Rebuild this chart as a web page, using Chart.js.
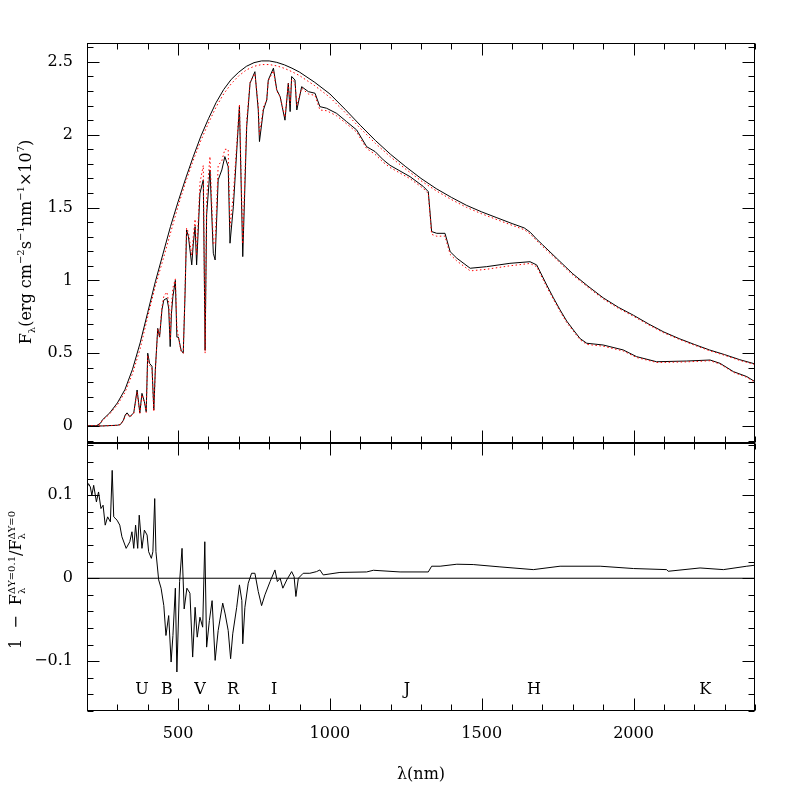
<!DOCTYPE html>
<html>
<head>
<meta charset="utf-8">
<script src="https://cdn.jsdelivr.net/npm/chart.js@4.4.1/dist/chart.umd.min.js"></script>
<style>
  html, body { margin: 0; padding: 0; background: #fff; }
  #wrap { position: relative; width: 797px; height: 797px; font-family: 'DejaVu Serif', serif; color: #000; }
  .box { position: absolute; left: 0; width: 797px; }
  .title { position: absolute; white-space: nowrap; font-size: 16px; transform: translate(-50%, -50%); }
  .rot { transform: translate(-50%, -50%) rotate(-90deg); }
  .title sup, .title sub { font-size: 10px; }
  .ss { display: inline-flex; flex-direction: column; font-size: 10px; line-height: 10px; vertical-align: middle; }
</style>
</head>
<body>
<div id="wrap">
  <div class="box" style="top:0;height:444px"><canvas id="topChart"></canvas></div>
  <div class="box" style="top:443px;height:354px"><canvas id="botChart"></canvas></div>
  <div class="title rot" style="left:26px;top:242px">F<sub>λ</sub>(erg cm<sup>−2</sup>s<sup>−1</sup>nm<sup>−1</sup>×10<sup>7</sup>)</div>
  <div class="title rot" style="left:16px;top:580px">1&nbsp;&nbsp;−&nbsp;&nbsp;F<span class="ss"><span>ΔY=0.1</span><span>λ</span></span>/F<span class="ss"><span>ΔY=0</span><span>λ</span></span></div>
  <div class="title" style="left:421px;top:773px">λ(nm)</div>
</div>
<script>
/* ---- data ---- */
const specWl = [200, 250, 300, 310, 320, 326, 332, 341, 354, 365, 374, 381, 389, 395, 400, 406, 414, 420, 425, 433,
  439, 447, 453, 463, 469, 474, 478, 483, 491, 496, 501, 510, 517, 523, 528, 534, 545, 550, 556, 561,
  572, 583, 589, 594, 605, 616, 622, 632, 644, 654, 665, 671, 682, 702, 713, 726, 737, 753, 764, 768,
  781, 792, 797, 814, 825, 836, 852, 863, 869, 874, 885, 891, 907, 929, 951, 967, 989, 1022, 1055, 1088,
  1121, 1149, 1176, 1198, 1264, 1308, 1324, 1335, 1352, 1379, 1396, 1418, 1462, 1516, 1593, 1659, 1681, 1714, 1736, 1758,
  1780, 1802, 1824, 1846, 1900, 1966, 2010, 2076, 2175, 2252, 2285, 2329, 2373, 2400];
// F_lambda, Delta Y = 0 (black)
const specY0 = [0, 0, 0.005, 0.01, 0.04, 0.076, 0.09, 0.064, 0.09, 0.247, 0.09, 0.224, 0.167, 0.098, 0.50, 0.43, 0.41, 0.11, 0.385, 0.67,
  0.61, 0.80, 0.865, 0.877, 0.81, 0.545, 0.77, 0.89, 1.0, 0.61, 0.61, 0.52, 0.50, 0.91, 1.346, 1.30, 1.106, 1.25, 1.369, 1.106,
  1.598, 1.69, 0.52, 1.45, 1.758, 1.186, 1.14, 1.69, 1.758, 1.85, 1.78, 1.255, 1.506, 2.193, 1.163, 2.056, 2.354, 2.433, 2.17, 1.953,
  2.17, 2.239, 2.376, 2.457, 2.308, 2.262, 2.10, 2.354, 2.159, 2.40, 2.376, 2.17, 2.33, 2.296, 2.285, 2.193, 2.182, 2.147, 2.09, 2.033,
  1.918, 1.884, 1.827, 1.79, 1.712, 1.644, 1.609, 1.335, 1.323, 1.323, 1.197, 1.152, 1.083, 1.094, 1.117, 1.128, 1.106, 0.968, 0.88, 0.797,
  0.72, 0.659, 0.60, 0.568, 0.556, 0.522, 0.476, 0.441, 0.446, 0.453, 0.43, 0.373, 0.339, 0.304];
// F_lambda, Delta Y = 0.1 (red dotted)
const specY1 = [0, 0, 0.0045, 0.009, 0.036, 0.069, 0.082, 0.06, 0.085, 0.235, 0.085, 0.214, 0.158, 0.093, 0.485, 0.415, 0.40, 0.10, 0.375, 0.665,
  0.615, 0.82, 0.89, 0.92, 0.85, 0.59, 0.82, 0.95, 1.01, 0.68, 0.61, 0.51, 0.50, 0.94, 1.36, 1.33, 1.17, 1.30, 1.42, 1.17,
  1.67, 1.79, 0.50, 1.57, 1.85, 1.25, 1.25, 1.79, 1.82, 1.90, 1.90, 1.37, 1.59, 2.21, 1.25, 2.10, 2.36, 2.42, 2.20, 2.0,
  2.19, 2.24, 2.37, 2.44, 2.30, 2.26, 2.12, 2.35, 2.21, 2.38, 2.36, 2.20, 2.32, 2.28, 2.27, 2.17, 2.165, 2.13, 2.075, 2.018,
  1.905, 1.865, 1.81, 1.775, 1.698, 1.631, 1.596, 1.316, 1.303, 1.304, 1.178, 1.133, 1.065, 1.076, 1.10, 1.116, 1.094, 0.955, 0.87, 0.786,
  0.71, 0.65, 0.592, 0.56, 0.548, 0.515, 0.47, 0.436, 0.44, 0.448, 0.425, 0.368, 0.334, 0.30];

const contWl = [200, 230, 245, 250, 275, 300, 325, 350, 375, 400, 425, 450, 475, 500, 525, 550, 575, 600, 625, 650,
  675, 700, 725, 750, 775, 800, 825, 850, 875, 900, 950, 1000, 1050, 1100, 1150, 1200, 1250, 1300, 1350, 1400,
  1450, 1500, 1550, 1600, 1640, 1660, 1680, 1700, 1750, 1800, 1850, 1900, 1950, 2000, 2050, 2100, 2150, 2200, 2250, 2300,
  2350, 2400];
const contY0 = [0, 0, 0.02, 0.04, 0.09, 0.158, 0.25, 0.39, 0.57, 0.78, 0.99, 1.18, 1.37, 1.54, 1.70, 1.85, 1.99, 2.11, 2.22, 2.31,
  2.38, 2.43, 2.47, 2.495, 2.507, 2.507, 2.497, 2.48, 2.457, 2.43, 2.36, 2.28, 2.175, 2.065, 1.96, 1.865, 1.78, 1.70, 1.63, 1.57,
  1.515, 1.47, 1.43, 1.39, 1.36, 1.33, 1.285, 1.245, 1.145, 1.045, 0.96, 0.88, 0.815, 0.76, 0.70, 0.645, 0.60, 0.56, 0.522, 0.49,
  0.455, 0.426];
const contY1 = [0, 0, 0.018, 0.036, 0.083, 0.145, 0.23, 0.36, 0.53, 0.75, 0.96, 1.14, 1.325, 1.51, 1.675, 1.825, 1.96, 2.08, 2.19, 2.28,
  2.35, 2.405, 2.445, 2.47, 2.482, 2.482, 2.473, 2.456, 2.433, 2.406, 2.337, 2.257, 2.153, 2.045, 1.94, 1.847, 1.763, 1.684, 1.615, 1.555,
  1.501, 1.457, 1.417, 1.378, 1.348, 1.318, 1.274, 1.234, 1.135, 1.036, 0.952, 0.872, 0.808, 0.753, 0.694, 0.639, 0.595, 0.555, 0.517, 0.485,
  0.45, 0.422];

// 1 - F(dY=0.1)/F(dY=0)
const resWl = [200, 201, 205, 211, 216, 222, 231, 238, 246, 253, 260, 268, 277, 283, 288, 299, 308, 315, 329, 341,
  348, 354, 360, 367, 372, 381, 389, 398, 403, 412, 417, 423, 427, 436, 444, 453, 460, 469, 477, 483,
  491, 496, 505, 513, 520, 529, 539, 548, 556, 563, 572, 581, 588, 594, 603, 612, 622, 632, 647, 655,
  665, 673, 680, 693, 702, 710, 713, 720, 731, 742, 753, 764, 775, 786, 803, 819, 827, 836, 845, 858,
  874, 882, 888, 896, 912, 934, 956, 967, 978, 1033, 1121, 1143, 1231, 1324, 1335, 1363, 1418, 1472, 1560, 1670,
  1758, 1890, 2000, 2109, 2114, 2219, 2296, 2373, 2400];
const resY = [-0.2, 0.11, 0.114, 0.11, 0.10, 0.112, 0.092, 0.104, 0.084, 0.088, 0.064, 0.074, 0.068, 0.130, 0.074, 0.07, 0.064, 0.05, 0.036, 0.044,
  0.056, 0.036, 0.064, 0.036, 0.076, 0.036, 0.058, 0.052, 0.032, 0.024, 0.032, 0.096, 0.032, -0.002, -0.012, -0.033, -0.069, -0.045, -0.101, -0.069,
  -0.012, -0.113, -0.004, 0.036, -0.037, -0.012, -0.018, -0.095, -0.035, -0.071, -0.047, -0.059, 0.044, -0.083, -0.051, -0.027, -0.099, -0.063, -0.030, -0.043,
  -0.063, -0.097, -0.067, -0.035, -0.008, -0.027, -0.079, -0.035, -0.006, 0.006, 0.006, -0.016, -0.033, -0.020, -0.004, 0.010, -0.004, 0.0, -0.012, -0.002,
  0.008, 0.002, -0.022, 0.0, 0.006, 0.006, 0.008, 0.010, 0.004, 0.007, 0.0076, 0.0096, 0.0076, 0.0076, 0.0145, 0.0145, 0.0169, 0.0165, 0.0137, 0.0104,
  0.0145, 0.0145, 0.0117, 0.0104, 0.0084, 0.0124, 0.0104, 0.0145, 0.0157];
const zeroWl = [200, 2400];
const zeroY = [0, 0];

const bandNames = ['U', 'B', 'V', 'R', 'I', 'J', 'H', 'K'];
const bandWl = [381, 463, 572, 681, 816, 1254, 1672, 2236];

const xTicks = [500, 1000, 1500, 2000];
const topTicks = [0, 0.5, 1, 1.5, 2, 2.5];
const botTicks = [-0.1, 0, 0.1];

/* ---- helpers ---- */
const FONT = { family: 'DejaVu Serif', size: 16 };
const pts = (xs, ys) => xs.map((x, i) => ({ x, y: ys[i] }));

function line(data, red) {
  return red
    ? { data, borderColor: '#ff0000', borderWidth: 1, borderDash: [1.5, 2.5], pointRadius: 0, order: 0 }
    : { data, borderColor: '#000', borderWidth: 1, pointRadius: 0, order: 1 };
}

// inward tick marks on all four sides + frame
const frameTicks = {
  id: 'frameTicks',
  afterDatasetsDraw(chart, args, o) {
    const { ctx, chartArea: a, scales: { x, y } } = chart;
    const L = Math.round(a.left) + .5, R = Math.round(a.right) - .5;
    const T = Math.round(a.top) + .5, B = Math.round(a.bottom) - .5;
    ctx.save();
    ctx.strokeStyle = '#000';
    ctx.lineWidth = 1;
    ctx.strokeRect(L, T, R - L, B - T);
    ctx.beginPath();
    const each = (min, max, step, every, fn) => {
      for (let i = Math.ceil(min / step - 1e-9); i <= Math.floor(max / step + 1e-9); i++) fn(i * step, i % every === 0);
    };
    each(x.min, x.max, o.xMinor, o.xEvery, (v, major) => {
      const px = Math.round(x.getPixelForValue(v)) + .5, len = major ? 12 : 6;
      ctx.moveTo(px, T); ctx.lineTo(px, T + len);
      ctx.moveTo(px, B); ctx.lineTo(px, B - len);
    });
    each(y.min, y.max, o.yMinor, o.yEvery, (v, major) => {
      const py = Math.round(y.getPixelForValue(v)) + .5, len = major ? 12 : 6;
      ctx.moveTo(L, py); ctx.lineTo(L + len, py);
      ctx.moveTo(R, py); ctx.lineTo(R - len, py);
    });
    ctx.stroke();
    if (o.labels) {
      ctx.fillStyle = '#000';
      ctx.font = FONT.size + 'px ' + FONT.family;
      ctx.textAlign = 'center';
      ctx.textBaseline = 'middle';
      o.labels.forEach((t, i) => ctx.fillText(t, x.getPixelForValue(o.labelX[i]), y.getPixelForValue(o.labelY)));
    }
    ctx.restore();
  }
};

function yScale(min, max, ticks) {
  return {
    min, max,
    afterFit: s => { s.width = 87; s.paddingTop = 0; s.paddingBottom = 0; },
    afterBuildTicks: s => { s.ticks = ticks.map(v => ({ value: v })); },
    ticks: { padding: 14, color: '#000', font: FONT, callback: v => String(v).replace('-', '−') },
    grid: { display: false, drawTicks: false },
    border: { display: false }
  };
}

const common = {
  responsive: true,
  maintainAspectRatio: false,
  animation: false,
  parsing: false,
  plugins: { legend: { display: false }, tooltip: { enabled: false } }
};

new Chart(document.getElementById('topChart'), {
  type: 'line',
  data: {
    datasets: [
      line(pts(contWl, contY0), false),
      line(pts(specWl, specY0), false),
      line(pts(contWl, contY1), true),
      line(pts(specWl, specY1), true)
    ]
  },
  options: Object.assign({}, common, {
    layout: { padding: { left: 0, right: 42, top: 43, bottom: 1 } },
    scales: {
      x: { type: 'linear', min: 200, max: 2400, display: false },
      y: yScale(-0.117, 2.63, topTicks)
    },
    plugins: Object.assign({}, common.plugins, {
      frameTicks: { xMinor: 100, xEvery: 5, yMinor: 0.1, yEvery: 5 }
    })
  }),
  plugins: [frameTicks]
});

new Chart(document.getElementById('botChart'), {
  type: 'line',
  data: {
    datasets: [
      line(pts(zeroWl, zeroY), false),
      line(pts(resWl, resY), false)
    ]
  },
  options: Object.assign({}, common, {
    layout: { padding: { left: 0, right: 42, top: 0, bottom: 0 } },
    scales: {
      x: {
        type: 'linear', min: 200, max: 2400,
        afterFit: s => { s.height = 86; s.paddingLeft = 0; s.paddingRight = 0; },
        afterBuildTicks: s => { s.ticks = xTicks.map(v => ({ value: v })); },
        ticks: { padding: 13, color: '#000', font: FONT, maxRotation: 0, callback: v => String(v) },
        grid: { display: false, drawTicks: false },
        border: { display: false }
      },
      y: yScale(-0.16, 0.163, botTicks)
    },
    plugins: Object.assign({}, common.plugins, {
      frameTicks: { xMinor: 100, xEvery: 5, yMinor: 0.02, yEvery: 5,
        labels: bandNames, labelX: bandWl, labelY: -0.134 }
    })
  }),
  plugins: [frameTicks]
});
</script>
</body>
</html>
